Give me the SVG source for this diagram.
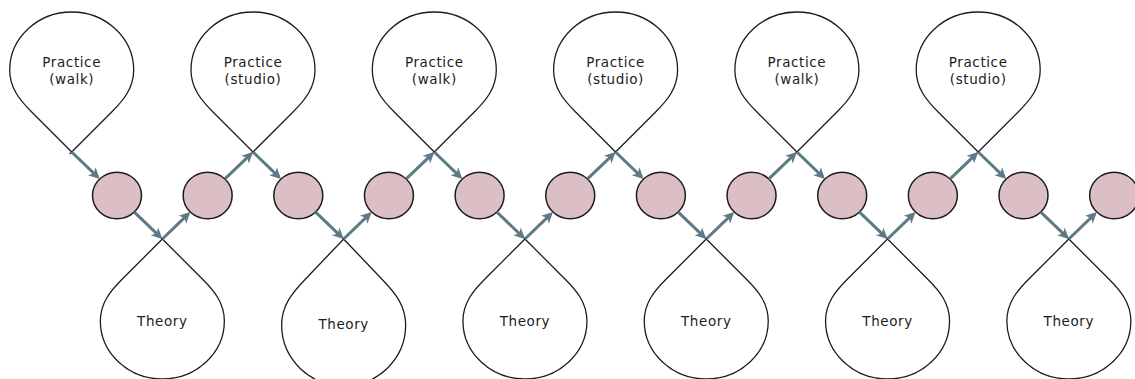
<svg xmlns="http://www.w3.org/2000/svg" xmlns:xlink="http://www.w3.org/1999/xlink" width="1135" height="379" viewBox="0 0 1135 379">
  <style>
    .loop { fill: #ffffff; stroke: #1c1c1c; stroke-width: 1.3; }
    .step { fill: #dcbfc4; stroke: #1c1c1c; stroke-width: 1.5; }
    .label { font-family: "DejaVu Sans", "Open Sans", sans-serif; font-size: 13.5px; letter-spacing: 0.6px; fill: #1c1c1c; text-anchor: middle; }
    .flow { fill: none; stroke: #5d7a85; stroke-width: 3; stroke-linecap: butt; marker-end: url(#head); }
  </style>
  <defs>
    <!-- stealth arrowhead; the tip sits 3 units past the end of the shaft -->
    <marker id="head" markerUnits="userSpaceOnUse" viewBox="-10 -7 16 14" markerWidth="16" markerHeight="14" refX="0" refY="0" orient="auto" overflow="visible">
      <path d="M3,0 L-8,-5.5 L-5,0 L-8,5.5 Z" fill="#5d7a85"/>
    </marker>
    <!-- teardrop loop, pointed end at the origin, round end upward -->
    <path id="drop" d="M2,2 L-40,-40 C-52,-52 -62,-64 -62,-82 C-62,-114 -34,-140 0,-140 C34,-140 62,-114 62,-82 C62,-64 52,-52 40,-40 L-2,2"/>
  </defs>

  <!-- practice loops (above the line) -->
  <g id="practice-1"><use xlink:href="#drop" class="loop" transform="translate(71.7,152)"/><text class="label" x="71.7" y="66.7">Practice</text><text class="label" x="71.7" y="84.3">(walk)</text></g>
  <g id="practice-2"><use xlink:href="#drop" class="loop" transform="translate(253,152)"/><text class="label" x="253" y="66.7">Practice</text><text class="label" x="253" y="84.3">(studio)</text></g>
  <g id="practice-3"><use xlink:href="#drop" class="loop" transform="translate(434.3,152)"/><text class="label" x="434.3" y="66.7">Practice</text><text class="label" x="434.3" y="84.3">(walk)</text></g>
  <g id="practice-4"><use xlink:href="#drop" class="loop" transform="translate(615.6,152)"/><text class="label" x="615.6" y="66.7">Practice</text><text class="label" x="615.6" y="84.3">(studio)</text></g>
  <g id="practice-5"><use xlink:href="#drop" class="loop" transform="translate(796.9,152)"/><text class="label" x="796.9" y="66.7">Practice</text><text class="label" x="796.9" y="84.3">(walk)</text></g>
  <g id="practice-6"><use xlink:href="#drop" class="loop" transform="translate(978.2,152)"/><text class="label" x="978.2" y="66.7">Practice</text><text class="label" x="978.2" y="84.3">(studio)</text></g>

  <!-- theory loops (below the line) -->
  <g id="theory-1"><use xlink:href="#drop" class="loop" transform="translate(162.35,239) scale(1,-1)"/><text class="label" x="162.35" y="326">Theory</text></g>
  <g id="theory-2"><use xlink:href="#drop" class="loop" transform="translate(343.65,239) scale(1,-1.05)"/><text class="label" x="343.65" y="329">Theory</text></g>
  <g id="theory-3"><use xlink:href="#drop" class="loop" transform="translate(524.95,239) scale(1,-1)"/><text class="label" x="524.95" y="326">Theory</text></g>
  <g id="theory-4"><use xlink:href="#drop" class="loop" transform="translate(706.25,239) scale(1,-1)"/><text class="label" x="706.25" y="326">Theory</text></g>
  <g id="theory-5"><use xlink:href="#drop" class="loop" transform="translate(887.55,239) scale(1,-1)"/><text class="label" x="887.55" y="326">Theory</text></g>
  <g id="theory-6"><use xlink:href="#drop" class="loop" transform="translate(1068.85,239) scale(1,-1)"/><text class="label" x="1068.85" y="326">Theory</text></g>

  <!-- step circles along the middle line -->
  <g id="step-1"><ellipse class="step" cx="117" cy="195.5" rx="24.5" ry="23.3"/></g>
  <g id="step-2"><ellipse class="step" cx="207.65" cy="195.5" rx="24.5" ry="23.3"/></g>
  <g id="step-3"><ellipse class="step" cx="298.3" cy="195.5" rx="24.5" ry="23.3"/></g>
  <g id="step-4"><ellipse class="step" cx="388.95" cy="195.5" rx="24.5" ry="23.3"/></g>
  <g id="step-5"><ellipse class="step" cx="479.6" cy="195.5" rx="24.5" ry="23.3"/></g>
  <g id="step-6"><ellipse class="step" cx="570.25" cy="195.5" rx="24.5" ry="23.3"/></g>
  <g id="step-7"><ellipse class="step" cx="660.9" cy="195.5" rx="24.5" ry="23.3"/></g>
  <g id="step-8"><ellipse class="step" cx="751.55" cy="195.5" rx="24.5" ry="23.3"/></g>
  <g id="step-9"><ellipse class="step" cx="842.2" cy="195.5" rx="24.5" ry="23.3"/></g>
  <g id="step-10"><ellipse class="step" cx="932.85" cy="195.5" rx="24.5" ry="23.3"/></g>
  <g id="step-11"><ellipse class="step" cx="1023.5" cy="195.5" rx="24.5" ry="23.3"/></g>
  <g id="step-12"><ellipse class="step" cx="1114.15" cy="195.5" rx="24.5" ry="23.3"/></g>

  <!-- connectors: loop tip -> circle, circle -> next loop tip -->
  <g id="connectors">
    <path class="flow" d="M71.7,152 L97.52,176.8"/>
    <path class="flow" d="M134.31,212.12 L160.19,236.92"/>
    <path class="flow" d="M162.35,239 L188.17,214.2"/>
    <path class="flow" d="M224.96,178.88 L250.84,154.08"/>
    <path class="flow" d="M253,152 L278.82,176.8"/>
    <path class="flow" d="M315.61,212.12 L341.49,236.92"/>
    <path class="flow" d="M343.65,239 L369.47,214.2"/>
    <path class="flow" d="M406.26,178.88 L432.14,154.08"/>
    <path class="flow" d="M434.3,152 L460.12,176.8"/>
    <path class="flow" d="M496.91,212.12 L522.79,236.92"/>
    <path class="flow" d="M524.95,239 L550.77,214.2"/>
    <path class="flow" d="M587.56,178.88 L613.44,154.08"/>
    <path class="flow" d="M615.6,152 L641.42,176.8"/>
    <path class="flow" d="M678.21,212.12 L704.09,236.92"/>
    <path class="flow" d="M706.25,239 L732.07,214.2"/>
    <path class="flow" d="M768.86,178.88 L794.74,154.08"/>
    <path class="flow" d="M796.9,152 L822.72,176.8"/>
    <path class="flow" d="M859.51,212.12 L885.39,236.92"/>
    <path class="flow" d="M887.55,239 L913.37,214.2"/>
    <path class="flow" d="M950.16,178.88 L976.04,154.08"/>
    <path class="flow" d="M978.2,152 L1004.02,176.8"/>
    <path class="flow" d="M1040.81,212.12 L1066.69,236.92"/>
    <path class="flow" d="M1068.85,239 L1094.67,214.2"/>
  </g>
</svg>
